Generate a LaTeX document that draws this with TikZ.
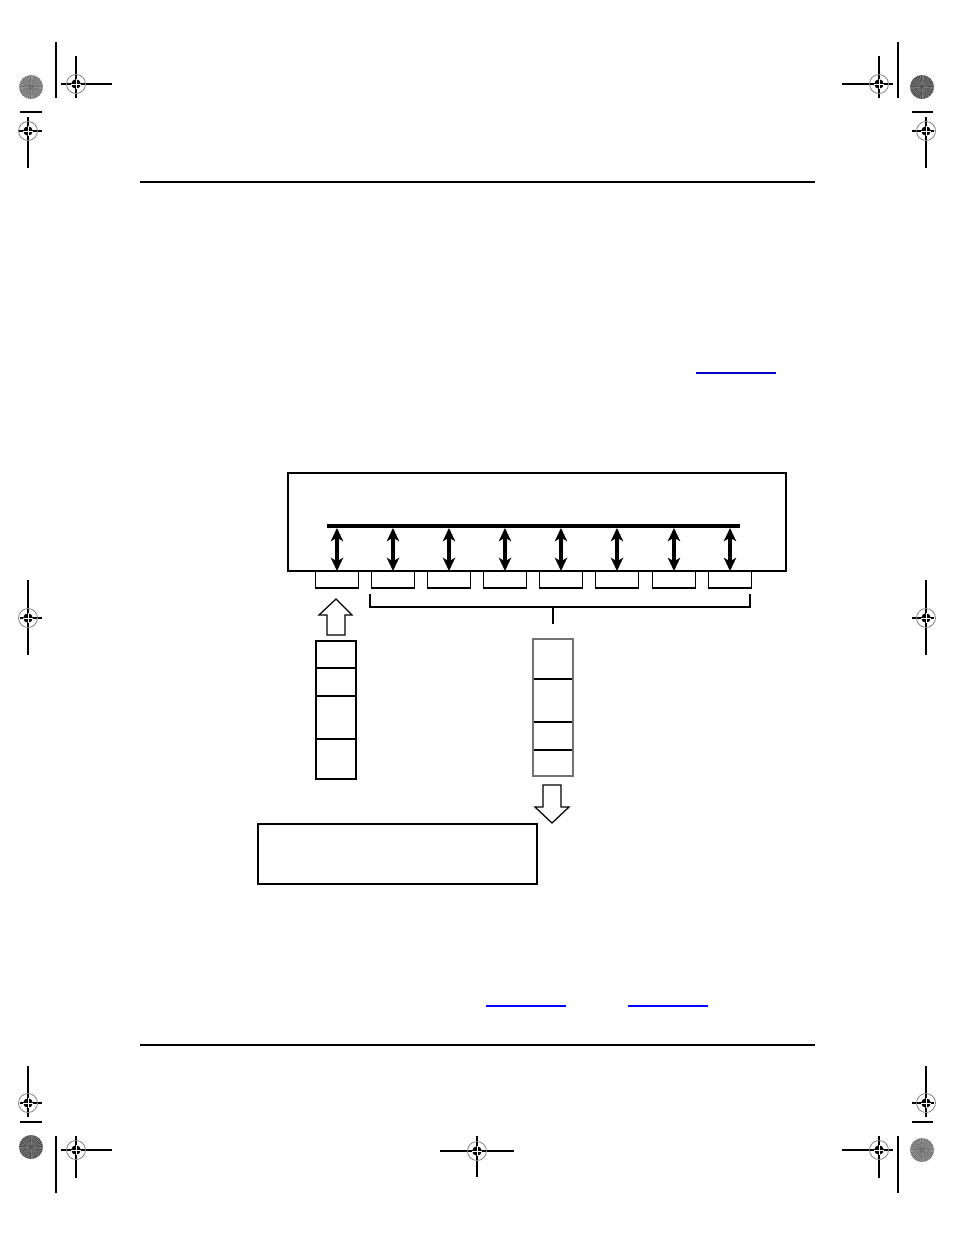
\documentclass[tikz,border=0pt]{standalone}
\usetikzlibrary{arrows.meta}
\begin{document}
\begin{tikzpicture}[x=0.02cm,y=-0.02cm]
\tikzset{
  regline/.style={line width=0.7pt},
  box/.style={draw, line width=0.7pt, inner sep=0pt, outer sep=0pt},
  port/.style={box, minimum width=0.86cm, minimum height=0.34cm},
  stackbox/.style={box, minimum width=0.8cm},
  biarrow/.style={line width=2.2pt, {Stealth[length=7.5pt,width=7pt,inset=2pt]}-{Stealth[length=7.5pt,width=7pt,inset=2pt]}},
  hollow/.style={draw, line width=0.7pt, fill=white, line join=miter},
  linkline/.style={line width=1.2pt, color=blue},
}
\newcommand\spiraldisk[3]{%
  \fill[black!#3] (#1,#2) circle (0.24cm);
  \foreach \a in {0,9,...,351} \draw[white, line width=0.3pt, opacity=0.35] (#1,#2) -- ++(\a:0.24cm);
  \foreach \a in {4.5,13.5,...,355.5} \draw[black, line width=0.3pt, opacity=0.25] (#1,#2) -- ++(\a:0.24cm);
  \fill[black!#3] (#1,#2) circle (0.03cm);
}
\newcommand\regtarget[2]{%
  \draw[gray, line width=0.45pt] (#1,#2) circle (0.19cm);
  \fill[black] (#1,#2) circle (0.095cm);
  \draw[white, line width=0.4pt] (#1,#2) ++(-0.095cm,0) -- ++(0.19cm,0);
  \draw[white, line width=0.4pt] (#1,#2) ++(0,-0.095cm) -- ++(0,0.19cm);
}
\useasboundingbox (0,0) rectangle (954,1235);
\fill[white] (0,0) rectangle (954,1235);

% ---------- registration marks: top left ----------
\draw[regline] (56,42) -- (56,98);
\draw[regline] (61,84) -- (112,84);
\draw[regline] (76,56) -- (76,98);
\regtarget{76}{84}
\draw[regline] (20,112) -- (42,112);
\draw[regline] (28,117) -- (28,168);
\draw[regline] (19,131) -- (42,131);
\regtarget{28}{131}
\spiraldisk{31}{87}{50}
% top right
\draw[regline] (898,42) -- (898,98);
\draw[regline] (842,84) -- (893,84);
\draw[regline] (879,56) -- (879,98);
\regtarget{879}{84}
\draw[regline] (912,112) -- (933,112);
\draw[regline] (926,117) -- (926,168);
\draw[regline] (912,131) -- (934,131);
\regtarget{926}{131}
\spiraldisk{922}{87}{68}
% middle left / right
\draw[regline] (28,580) -- (28,655);
\draw[regline] (20,618) -- (42,618);
\regtarget{28}{618}
\draw[regline] (926,580) -- (926,655);
\draw[regline] (912,618) -- (934,618);
\regtarget{926}{618}
% bottom left
\draw[regline] (28,1066) -- (28,1117);
\draw[regline] (20,1103) -- (42,1103);
\regtarget{28}{1103}
\draw[regline] (20,1122) -- (42,1122);
\spiraldisk{31}{1147}{68}
\draw[regline] (56,1136) -- (56,1193);
\draw[regline] (61,1150) -- (112,1150);
\draw[regline] (76,1136) -- (76,1178);
\regtarget{76}{1150}
% bottom right
\draw[regline] (926,1066) -- (926,1117);
\draw[regline] (912,1103) -- (934,1103);
\regtarget{926}{1103}
\draw[regline] (912,1122) -- (933,1122);
\spiraldisk{922}{1150}{50}
\draw[regline] (898,1136) -- (898,1193);
\draw[regline] (842,1150) -- (893,1150);
\draw[regline] (879,1136) -- (879,1178);
\regtarget{879}{1150}
% bottom centre
\draw[regline] (440,1151) -- (514,1151);
\draw[regline] (477,1136) -- (477,1177);
\regtarget{477}{1151}

% ---------- header / footer rules ----------
\coordinate (hdrL) at (140,182); \coordinate (hdrR) at (815,182);
\coordinate (ftrL) at (140,1045); \coordinate (ftrR) at (815,1045);
\draw[line width=0.7pt] (hdrL) -- (hdrR);
\draw[line width=0.7pt] (ftrL) -- (ftrR);

% ---------- blue link underlines ----------
\coordinate (lk1a) at (696,373); \coordinate (lk1b) at (776,373);
\coordinate (lk2a) at (486,1006); \coordinate (lk2b) at (566,1006);
\coordinate (lk3a) at (628,1006); \coordinate (lk3b) at (708,1006);
\draw[linkline, color={rgb,255:red,0;green,0;blue,190}] (lk1a) -- (lk1b);
\draw[linkline] (lk2a) -- (lk2b);
\draw[linkline] (lk3a) -- (lk3b);

% ---------- main box and bus ----------
\node[box, minimum width=9.96cm, minimum height=1.96cm] (main) at (537,522) {};
\coordinate (busL) at (327,526);
\coordinate (busR) at (740,526);
\draw[line width=1.8pt] (busL) -- (busR);

% ---------- ports ----------
\foreach \i/\x in {1/337,2/393,3/449,4/505,5/561,6/617,7/674,8/730} {
  \node[port] (p\i) at (\x,579.5) {};
  \draw[biarrow] (p\i.north) -- ++(0,-43);
}

% ---------- bracket ----------
\coordinate (brL) at (370,594);
\coordinate (brR) at (750,594);
\coordinate (brM) at (553,607);
\draw[line width=0.7pt] (brL) -- (370,607) -- (750,607) -- (brR);
\draw[line width=0.7pt] (brM) -- ++(0,17);

% ---------- left stack ----------
\node[stackbox, minimum height=0.54cm] (L1) at (336,654.5) {};
\node[stackbox, minimum height=0.56cm] (L2) at (336,682) {};
\node[stackbox, minimum height=0.86cm] (L3) at (336,717.5) {};
\node[stackbox, minimum height=0.80cm] (L4) at (336,759) {};

% ---------- right stack ----------
\node[stackbox, minimum height=0.80cm] (R1) at (553,659) {};
\node[stackbox, minimum height=0.86cm] (R2) at (553,700.5) {};
\node[stackbox, minimum height=0.56cm] (R3) at (553,736) {};
\node[stackbox, minimum height=0.52cm] (R4) at (553,763) {};
\draw[line width=0.8pt, black!55] (R1.north west) rectangle (R4.south east);

% ---------- hollow arrows ----------
\coordinate (upTip) at (336,599);
\draw[hollow] (upTip) -- (352,615) -- (345,615) -- (345,635) -- (327,635) -- (327,615) -- (319,615) -- cycle;
\coordinate (dnTip) at (552,823);
\draw[hollow] (dnTip) -- (569,807) -- (561,807) -- (561,785) -- (543,785) -- (543,807) -- (535,807) -- cycle;

% ---------- bottom box ----------
\node[box, minimum width=5.58cm, minimum height=1.2cm] (out) at (397.5,854) {};
\end{tikzpicture}
\end{document}
